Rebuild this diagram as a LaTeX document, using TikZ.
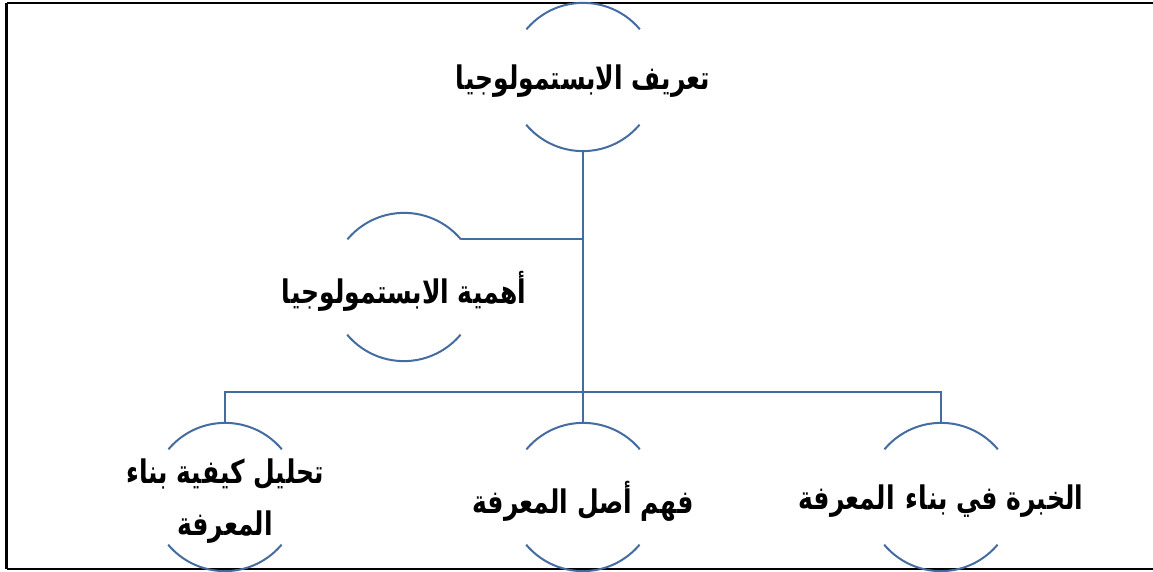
\documentclass[tikz,border=0pt]{standalone}
\usepackage{fontspec}
\usepackage{tikz}
\TeXXeTstate=1
\newfontfamily\arabicfont[Script=Arabic]{DejaVu Sans}
\definecolor{arcblue}{RGB}{68,108,160}
\newcommand{\artext}[1]{\arabicfont\bfseries\beginR #1\endR}
\newcommand{\halfarcs}[1]{
    \draw[arcblue,line width=2pt] (#1.40) arc[start angle=40,end angle=140,radius=74];
    \draw[arcblue,line width=2pt] (#1.220) arc[start angle=220,end angle=320,radius=74];
}
\tikzset{
  circ/.style={circle,minimum size=148pt,inner sep=0pt},
  txt/.style={font=\fontsize{25}{40}\selectfont,align=center,inner sep=0pt,
    yscale=1.3,transform shape,yshift=-3pt},
  link/.style={arcblue,line width=2pt}
}

\begin{document}
\begin{tikzpicture}[x=1pt,y=1pt]
\useasboundingbox (0,0) rectangle (1153,572);
% frame
\draw[line width=1.5pt] (1153,569) -- (6.5,569);
\draw[line width=2.5pt] (6.5,569) -- (6.5,2.5);
\draw[line width=2pt] (6.5,2.5) -- (1153,2.5);
% circles
\foreach \name/\x/\y in {top/583/495, why/404/285, how/225/75, origin/583/75, exp/941/75}{
    \node[circ] (\name) at (\x,\y) {};
    \halfarcs{\name}
}
\node[txt] at (top) {\artext{تعريف الابستمولوجيا}};
\node[txt] at (why) {\artext{أهمية الابستمولوجيا}};
\node[txt] at (how) {\artext{تحليل كيفية بناء}\\\artext{المعرفة}};
\node[txt] at (origin) {\artext{فهم أصل المعرفة}};
\node[txt] at (exp) {\artext{الخبرة في بناء\hspace{0.1em} المعرفة}};
% connectors
\coordinate (bar) at (583,180);
\draw[link] (top.south) -- (origin.north);
\draw[link] (why.40) -- (why.40 -| top.south);
\draw[link] (how.north) |- (bar) -| (exp.north);
\end{tikzpicture}
\end{document}
